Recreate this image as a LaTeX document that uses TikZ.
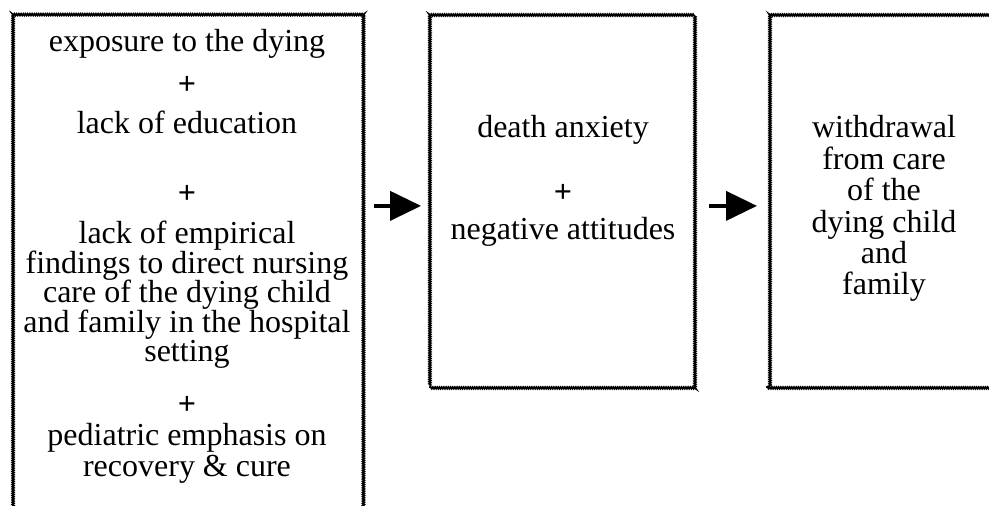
\documentclass[tikz,border=0pt]{standalone}
\usepackage{fontspec}
\setmainfont{Liberation Serif}
\usetikzlibrary{arrows.meta,calc,decorations.pathmorphing}
\newcommand{\plusmark}{\textbf{+}}
\tikzset{
  wavybox/.style={draw, line width=0.9pt, decorate, decoration={snake, segment length=1.1pt, amplitude=0.4pt}, inner sep=0pt},
  boxtext/.style={align=center, inner sep=0pt, anchor=base, font=\fontsize{16pt}{14.75pt}\selectfont},
  flow/.style={line width=2pt, -{Triangle[length=15.5pt,width=14.5pt]}},
}
\begin{document}
\begin{tikzpicture}[x=0.5pt,y=-0.5pt]
\useasboundingbox (0,0) rectangle (989,506);
\clip (0,0) rectangle (989,506);
\node[wavybox, anchor=north, minimum width=176pt, minimum height=260pt] (causes) at (186,14) {};
\node[wavybox, anchor=north, minimum width=132.5pt, minimum height=186.5pt] (anxiety) at (562.5,14) {};
\node[wavybox, anchor=north west, minimum width=120pt, minimum height=186.5pt] (withdrawal) at (766,14) {};
\node[boxtext] (causestext) at (187,477) {exposure to the dying\\[6.75pt] \plusmark\\[4.75pt] lack of education\\[20.25pt] \plusmark\\[5.25pt] lack of empirical\\ findings to direct nursing\\ care of the dying child\\ and family in the hospital\\ setting\\[11.75pt] \plusmark\\[0.75pt] pediatric emphasis on\\[0.75pt] recovery \& cure};
\node[boxtext] (anxietytext) at (563,240) {death anxiety\\[17.75pt] \plusmark\\[3.75pt] negative attitudes};
\node[boxtext, font=\fontsize{16pt}{15.7pt}\selectfont] (withdrawaltext) at (884,295) {withdrawal\\ from care\\ of the\\ dying child\\ and\\ family};
\draw[flow, shorten <=5.5pt, shorten >=4pt] ($(causes.east |- anxiety.west)+(0,4.5)$) -- ($(anxiety.west)+(0,4.5)$);
\draw[flow, shorten <=6.5pt, shorten >=4.5pt] ($(anxiety.east)+(0,4.5)$) -- ($(withdrawal.west)+(0,4.5)$);
\end{tikzpicture}
\end{document}
